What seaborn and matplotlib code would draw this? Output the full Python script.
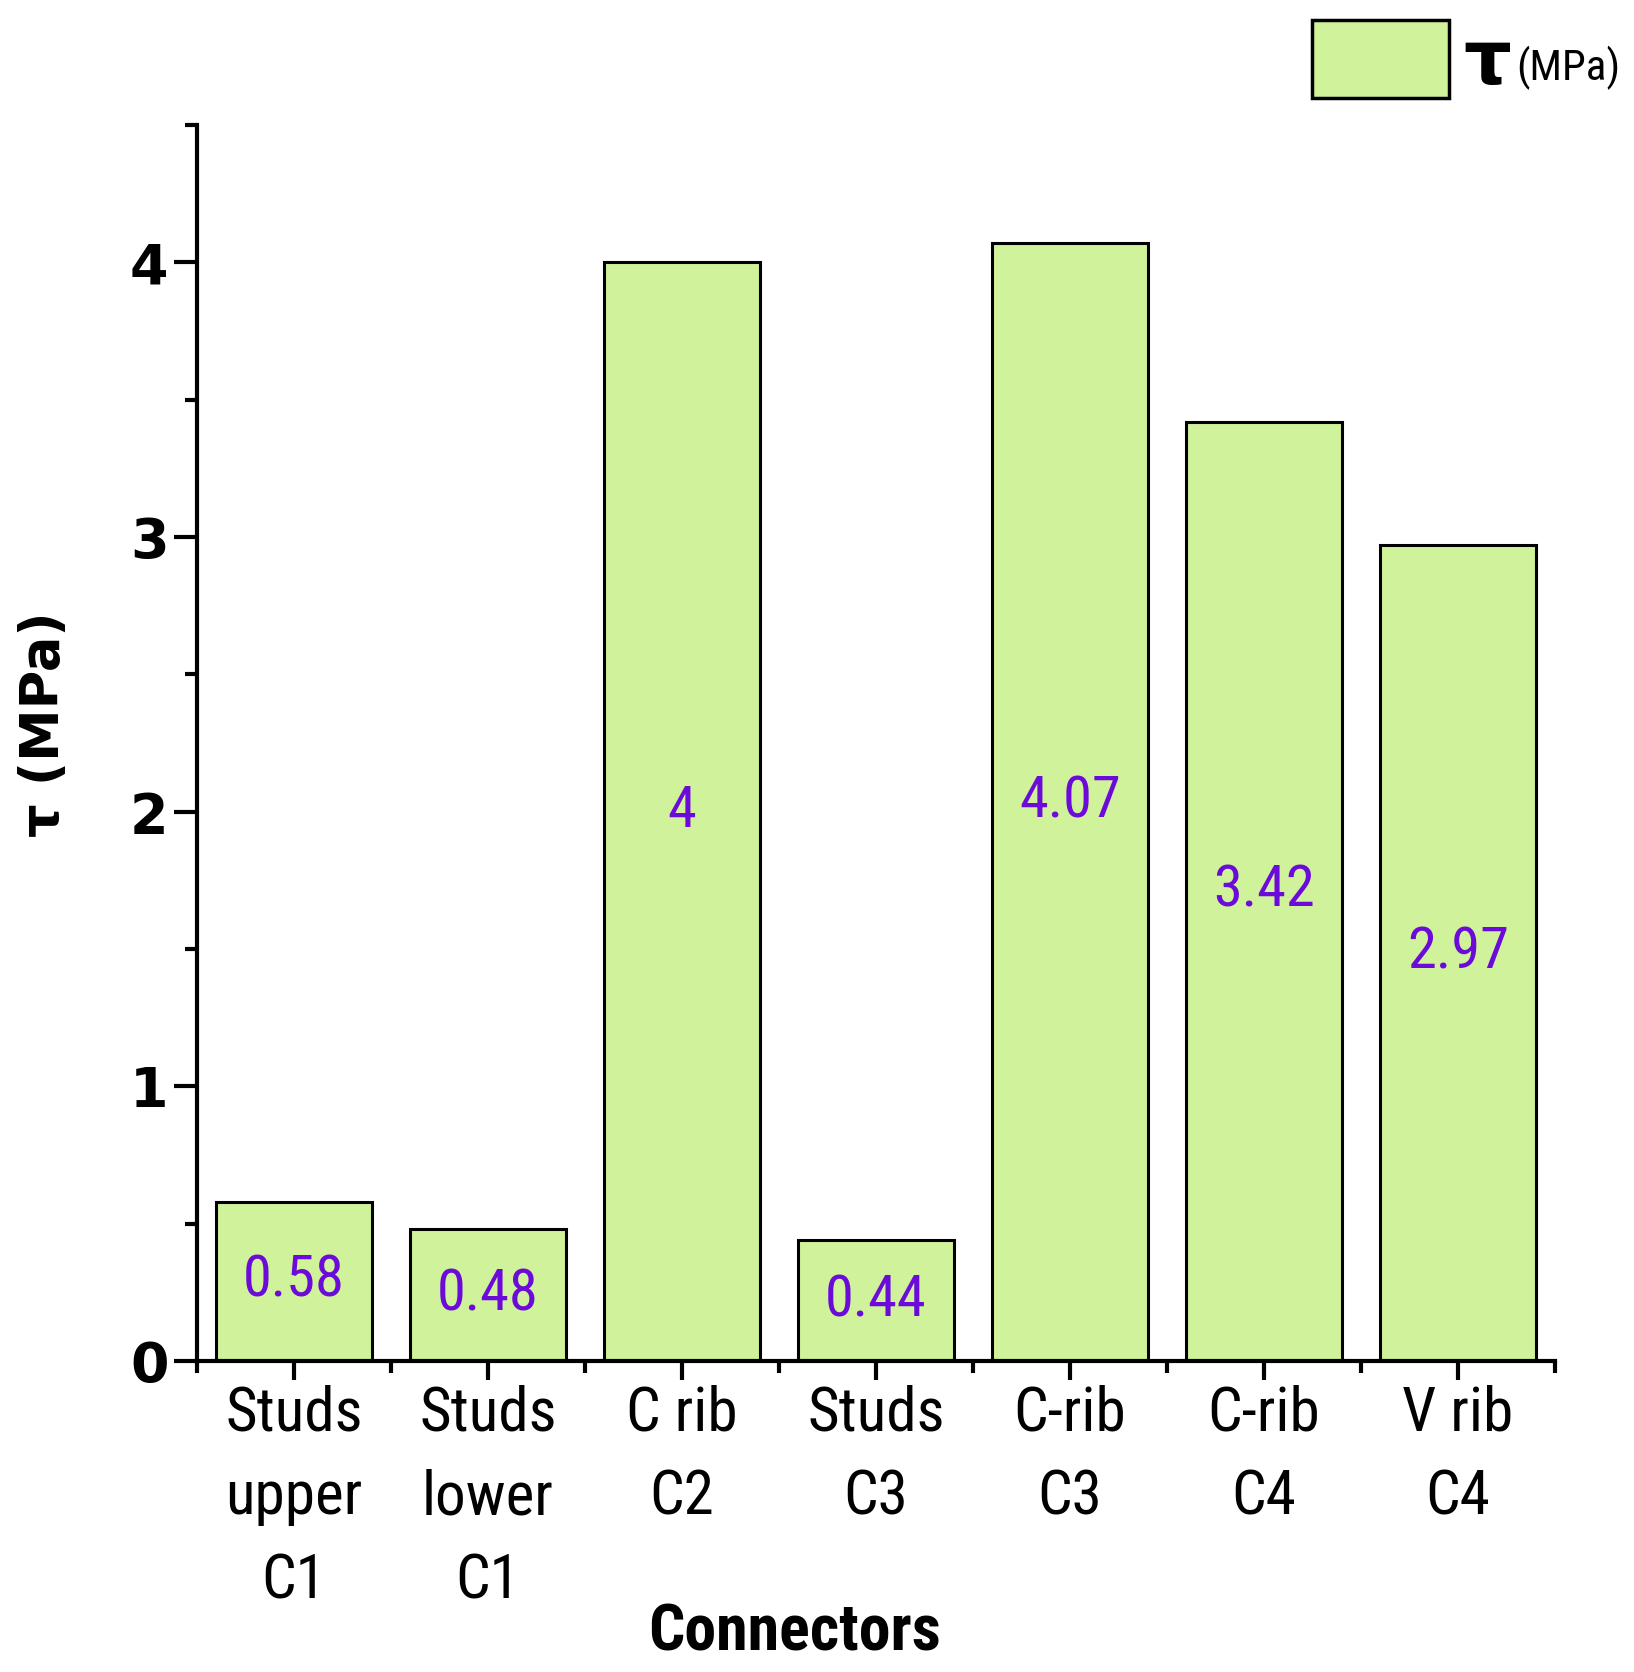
import numpy as np
import pandas as pd
import matplotlib
matplotlib.use("Agg")
import matplotlib.pyplot as plt
from matplotlib.patches import Patch
from matplotlib import font_manager
import seaborn as sns

categories = ["Studs\nupper\nC1", "Studs\nlower\nC1", "C rib\nC2", "Studs\nC3",
              "C-rib\nC3", "C-rib\nC4", "V rib\nC4"]
tau_values = [0.58, 0.48, 4.0, 0.44, 4.07, 3.42, 2.97]
value_labels = ["0.58", "0.48", "4", "0.44", "4.07", "3.42", "2.97"]
y_ticks = [0, 1, 2, 3, 4]

BAR_COLOR = "#cff29a"
LABEL_COLOR = "#6c0ad9"

sns.set_style("ticks")
names = {f.name for f in font_manager.fontManager.ttflist}
narrow_candidates = [n for n in ["Roboto Condensed", "Liberation Sans Narrow",
                                 "Open Sans Condensed"] if n in names]
NARROW = narrow_candidates + ["DejaVu Sans"]
STRETCH = "normal" if narrow_candidates else "condensed"
plt.rcParams["font.family"] = NARROW
plt.rcParams["font.stretch"] = STRETCH
for k in ["text.color", "axes.labelcolor", "xtick.color", "ytick.color", "axes.edgecolor"]:
    plt.rcParams[k] = "black"

df = pd.DataFrame({"Connectors": categories, "tau": tau_values})

fig = plt.figure(figsize=(16.34, 16.72), dpi=100)
ax = fig.add_axes([197 / 1634, 1 - 1361 / 1672, (1555 - 197) / 1634, (1361 - 125) / 1672])

sns.barplot(data=df, x="Connectors", y="tau", color=BAR_COLOR, saturation=1,
            width=0.8, edgecolor="black", linewidth=2.2, ax=ax)

ax.bar_label(ax.containers[0], labels=value_labels, label_type="center",
             color=LABEL_COLOR, fontsize=42, family=NARROW, fontstretch=STRETCH)

ax.set_xlim(-0.5, 6.5)
ax.set_ylim(0, 4.5)
ax.set_yticks(y_ticks)
ax.set_yticklabels([str(v) for v in y_ticks], fontsize=40, fontweight="bold",
                   family="DejaVu Sans", fontstretch="normal")
ax.set_yticks(np.arange(0.5, 4.6, 1.0), minor=True)
ax.set_xticks(range(len(categories)))
ax.set_xticklabels(categories, fontsize=44, linespacing=1.56)
ax.set_xticks(np.arange(-0.5, 7.0, 1.0), minor=True)

sns.despine(ax=ax)
for s in ["left", "bottom"]:
    ax.spines[s].set_linewidth(3)
ax.tick_params(axis="y", which="major", direction="out", length=16.5, width=3, pad=4)
ax.tick_params(axis="y", which="minor", direction="out", length=8.6, width=3)
ax.tick_params(axis="x", which="major", direction="out", length=14, width=3, pad=3)
ax.tick_params(axis="x", which="minor", direction="out", length=8.6, width=3)

ax.set_ylabel("τ (MPa)", fontsize=38, fontweight="bold", family="DejaVu Sans",
              fontstretch="normal")
ax.yaxis.set_label_coords(-0.113, 0.515)
ax.yaxis.label.set_va("center")
ax.set_xlabel("Connectors", fontsize=46, fontweight="bold")
ax.xaxis.set_label_coords(0.44, -0.22)
ax.xaxis.label.set_va("center")

em = 54 * 100 / 72
handle = Patch(facecolor=BAR_COLOR, edgecolor="black", linewidth=2.5)
fig.legend(handles=[handle], labels=["τ"], loc="upper left",
           bbox_to_anchor=(1312 / 1634, 1 - 20 / 1672), frameon=False,
           prop={"family": "DejaVu Sans", "weight": "bold", "size": 54, "stretch": "normal"},
           borderpad=0, borderaxespad=0, handlelength=137 / em,
           handleheight=91 / em, handletextpad=0.19)
fig.text(1516 / 1634, 1 - 68 / 1672, "(MPa)", fontsize=31, va="center", ha="left")

fig.savefig("out.png", dpi=100)
